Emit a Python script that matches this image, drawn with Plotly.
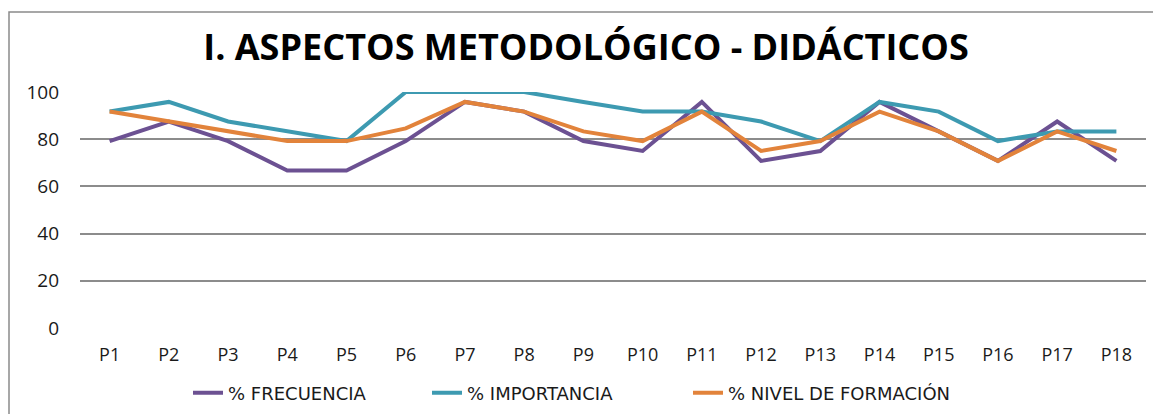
import plotly.graph_objects as go

categories = [f"P{i}" for i in range(1, 19)]
frecuencia = [79.2, 87.5, 79.2, 66.7, 66.7, 79.2, 95.8, 91.7, 79.2, 75.0, 95.8, 70.8, 75.0, 95.8, 83.3, 70.8, 87.5, 70.8]
importancia = [91.7, 95.8, 87.5, 83.3, 79.2, 100, 100, 100, 95.8, 91.7, 91.7, 87.5, 79.2, 95.8, 91.7, 79.2, 83.3, 83.3]
nivel = [91.7, 87.5, 83.3, 79.2, 79.2, 84.6, 95.8, 91.7, 83.3, 79.2, 91.7, 75.0, 79.2, 91.7, 83.3, 70.8, 83.3, 75.0]
y_ticks = [0, 20, 40, 60, 80, 100]

series = [
    ("% FRECUENCIA", frecuencia, "#6C5192"),
    ("% IMPORTANCIA", importancia, "#3D9AB1"),
    ("% NIVEL DE FORMACIÓN", nivel, "#E2833B"),
]

W, H = 1153, 406
L, R, T, B = 72, 15, 84, 86
PW, PH = W - L - R, H - T - B
legend_ids = ["legend", "legend2", "legend3"]
legend_line_starts = [189, 428, 689]

fig = go.Figure()
for (name, vals, color), lid in zip(series, legend_ids):
    fig.add_trace(go.Scatter(
        x=categories, y=vals, name=name, mode="lines",
        line=dict(color=color, width=4), legend=lid,
    ))

legend_layout = {}
for lid, xs in zip(legend_ids, legend_line_starts):
    legend_layout[lid] = dict(
        orientation="h", x=(xs - 9 - L) / PW, xanchor="left",
        y=-65 / PH, yanchor="middle",
        font=dict(size=18, family="DejaVu Sans", color="#1a1a1a"),
        bgcolor="rgba(0,0,0,0)",
    )

fig.update_layout(
    width=W, height=H,
    margin=dict(l=L, r=R, t=T, b=B, autoexpand=False),
    paper_bgcolor="white", plot_bgcolor="white",
    font=dict(family="Open Sans", color="#1a1a1a"),
    title=dict(
        text="<b>I. ASPECTOS METODOLÓGICO - DIDÁCTICOS</b>",
        x=578 / W, xanchor="center", y=1 - 39 / H, yanchor="middle",
        font=dict(size=36, family="Open Sans", color="black"),
    ),
    showlegend=True,
    xaxis=dict(
        showgrid=False, showline=False, ticks="",
        tickfont=dict(size=18, color="#1a1a1a"),
        range=[-0.5, 17.5], automargin=False,
        ticklabelstandoff=14,
    ),
    yaxis=dict(
        range=[0, 100], tickvals=y_ticks,
        showgrid=True, gridcolor="#8c8c8c", gridwidth=1.5,
        zeroline=False, showline=False,
        tickfont=dict(size=19, color="#1a1a1a"),
        ticklabelstandoff=20, automargin=False,
    ),
    shapes=[dict(
        type="rect", xref="paper", yref="paper",
        x0=(1 - L) / PW, x1=1.05, y0=-0.5, y1=(T + PH - 4) / PH,
        line=dict(color="#8a8a8a", width=1.5), fillcolor="rgba(0,0,0,0)",
        layer="below",
    )],
    **legend_layout,
)

fig.write_html("out.html")
